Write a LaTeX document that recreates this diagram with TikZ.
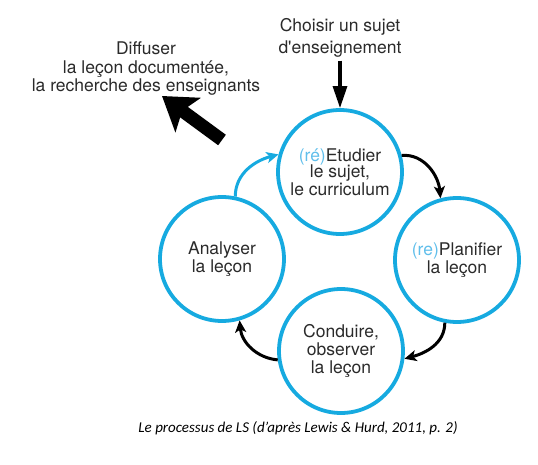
\documentclass[tikz,border=0pt]{standalone}
\usepackage{fontspec}
\setmainfont{TeX Gyre Heros}
\newfontfamily\capfont{Carlito}
\usetikzlibrary{arrows.meta}
\definecolor{lsblue}{RGB}{22,170,224}
\definecolor{lslight}{RGB}{95,190,235}
\definecolor{lstext}{RGB}{42,42,42}
\newcommand{\pre}[1]{\textcolor{lslight}{#1}}

\begin{document}
\begin{tikzpicture}[
    x=1pt, y=1pt,
    phase/.style={
      circle,
      draw=lsblue,
      line width=3.8pt,
      minimum size=124pt,
      inner sep=0pt,
      align=center,
      text=lstext,
      font=\fontsize{17.5}{18}\selectfont,
    },
    lbl/.style={
      align=center,
      text=lstext,
      font=\fontsize{17.5}{21.5}\selectfont,
    },
    cycle/.style={
      -{Stealth[length=12pt,width=11pt,inset=3pt]},
      line width=3pt,
    },
  ]
    \useasboundingbox (0,0) rectangle (538,464);

    \node[phase,font=\fontsize{17.5}{16.5}\selectfont] (etud) at (340,292)
      {\pre{(ré)}Etudier\\le sujet,\\le curriculum};
    \node[phase] (plan) at (457,204) {\pre{(re)}Planifier\\la leçon};
    \node[phase] (cond) at (341,113) {Conduire,\\observer\\la leçon};
    \node[phase] (anal) at (222,205) {Analyser\\la leçon};

    \node[lbl] (choix) at (340,426) {Choisir un sujet\\d\textquotesingle enseignement};
    \node[lbl,font=\fontsize{17.5}{18.5}\selectfont] (diff) at (146,395)
      {Diffuser\\la leçon documentée,\\la recherche des enseignants};

    \node[anchor=base,font=\capfont\itshape\fontsize{15}{17}\selectfont] (legende) at (298,32)
      {Le processus de LS (d’après Lewis \& Hurd, 2011, p. 2)};

    % entree et diffusion
    \draw[-{Triangle[length=22pt,width=14pt]},line width=3.2pt] (choix.south) -- (etud.north);
    \coordinate (difftail) at (222,324);
    \coordinate (difftip) at (162,368);
    \draw[-{Stealth[length=32pt,width=42pt,inset=7pt]},line width=13pt] (difftail) -- (difftip);

    % le cycle
    \draw[cycle] (etud.15) to[out=5,in=95] (plan.105);
    \draw[cycle] (plan.259) to[out=-90,in=15] (cond.-7);
    \draw[cycle] (cond.188) to[out=175,in=-85] (anal.-74);
    \draw[cycle,lsblue] (anal.78) to[out=90,in=195] (etud.164);
  \end{tikzpicture}
\end{document}
